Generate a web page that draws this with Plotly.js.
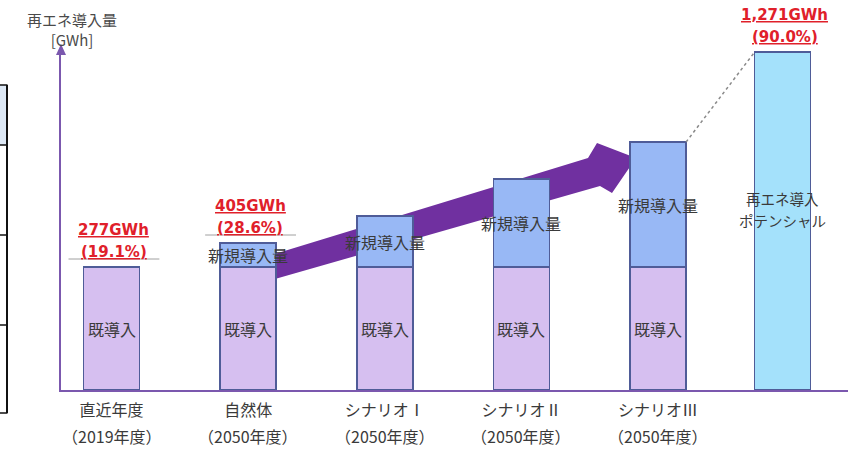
<!DOCTYPE html>
<html>
<head>
<meta charset="utf-8">
<script src="https://cdn.plot.ly/plotly-3.0.1.min.js"></script>
<style>html,body{margin:0;padding:0;background:#fff;}#chart{width:858px;height:450px;}</style>
</head>
<body>
<div id="chart"></div>
<script>
// Schematic chart: bar heights are drawing heights (not to GWh scale).
const categories = ['直近年度', '自然体', 'シナリオⅠ', 'シナリオⅡ', 'シナリオⅢ', 'ポテンシャル'];
const tickLabels = ['直近年度', '自然体', 'シナリオⅠ', 'シナリオⅡ', 'シナリオⅢ', ''];
const yearLabels = ['（2019年度）', '（2050年度）', '（2050年度）', '（2050年度）', '（2050年度）', ''];
const existingHeight = [123, 123, 123, 123, 123, null];
const newHeight = [null, 24, 51, 88, 125, null];
const potentialHeight = [null, null, null, null, null, 338];
const valueLabels = ['277GWh', '405GWh', '', '', '', '1,271GWh'];
const pctLabels = ['(19.1%)', '(28.6%)', '', '', '', '(90.0%)'];
const existingText = '既導入';
const newText = '新規導入量';
const potentialLines = ['再エネ導入', 'ポテンシャル'];
const yTitle = '再エネ導入量<br>[GWh]';

const PL = 61, PR = 848, PT = 50, PB = 390;
const px = v => (v - PL) / (PR - PL);
const py = v => (PB - v) / (PB - PT);

const purple = '#7b58ae';
const outline = '#4f5c98';
const jp = '"Noto Sans CJK JP", "Noto Sans", sans-serif';
const BW = 0.41;
const potOffset = -0.293;
const catPx = 136.6;

const traces = [
  {type: 'bar', x: categories, y: existingHeight, width: BW,
   marker: {color: '#d6bff0', line: {color: outline, width: 1.5}}, hoverinfo: 'skip'},
  {type: 'bar', x: categories, y: newHeight, width: BW,
   marker: {color: '#98b8f5', line: {color: outline, width: 1.5}}, hoverinfo: 'skip'},
  {type: 'bar', x: categories, y: potentialHeight, width: BW, offset: potOffset,
   marker: {color: '#a4e1fb', line: {color: outline, width: 1.5}}, hoverinfo: 'skip'}
];

const annotations = [];
const shapes = [];
const v = a => a || 0;
const total = categories.map((c, i) => v(existingHeight[i]) + v(newHeight[i]) + v(potentialHeight[i]));
const centerIdx = i => v(potentialHeight[i]) > 0 ? i + potOffset + BW / 2 : i;
const txtFont = {family: jp, size: 16, color: '#3a3a3a'};
const redFont = {family: '"DejaVu Sans", sans-serif', size: 15, color: '#e0202a', weight: 'bold'};

categories.forEach((c, i) => {
  if (v(existingHeight[i]) > 0) {
    annotations.push({x: c, y: existingHeight[i] / 2, text: existingText, showarrow: false,
      yanchor: 'middle', font: txtFont});
  }
  if (v(newHeight[i]) > 0) {
    annotations.push({x: c, y: existingHeight[i] + newHeight[i] / 2, text: newText, showarrow: false,
      yanchor: 'middle', font: txtFont});
  }
  if (valueLabels[i]) {
    const ci = centerIdx(i);
    const dx = (ci - i) * catPx;
    annotations.push({x: c, y: total[i], yshift: 37, xshift: dx + 2, text: '<u>' + valueLabels[i] + '</u>',
      showarrow: false, yanchor: 'middle', font: redFont});
    annotations.push({x: c, y: total[i], yshift: 15, xshift: dx + 2, text: '<u>' + pctLabels[i] + '</u>',
      showarrow: false, yanchor: 'middle', font: redFont});
    shapes.push({type: 'line', xref: 'x', yref: 'y', x0: ci - 0.315, x1: ci + 0.35,
      y0: total[i] + 8, y1: total[i] + 8, line: {color: '#a0a0a0', width: 1}});
  }
  if (yearLabels[i]) {
    annotations.push({x: c, xref: 'x', yref: 'paper', y: py(436), yanchor: 'middle', text: yearLabels[i],
      showarrow: false, font: txtFont});
  }
  if (v(potentialHeight[i]) > 0) {
    potentialLines.forEach((line, k) => {
      annotations.push({x: c, y: 192 - 22 * k, xshift: (centerIdx(i) - i) * catPx, text: line, showarrow: false,
        yanchor: 'middle', font: {family: jp, size: 14.5, color: '#3a3a3a'}});
    });
  }
});

// y-axis title
annotations.push({xref: 'paper', yref: 'paper', x: px(72), y: py(29), xanchor: 'center', yanchor: 'middle',
  text: yTitle, showarrow: false, font: {family: jp, size: 15, color: '#4a4a4a'}});

// dotted connector from scenario III top to potential top
shapes.push({type: 'line', xref: 'x', yref: 'y', x0: 4 + BW / 2, y0: total[4], x1: 5 + potOffset, y1: total[5],
  line: {color: '#8a8a8a', width: 1.5, dash: 'dot'}});

// big purple arrow (behind bars)
const arrowPts = [[268, 256], [588, 158], [597, 143], [636, 158], [612, 193], [600, 186], [268, 281]];
shapes.push({type: 'path', xref: 'paper', yref: 'paper', layer: 'below',
  path: 'M' + arrowPts.map(p => px(p[0]) + ',' + py(p[1])).join(' L') + ' Z',
  fillcolor: '#7030a0', line: {width: 0}});

// y-axis arrowhead
shapes.push({type: 'path', xref: 'paper', yref: 'paper',
  path: `M${px(56)},${py(55)} L${px(61)},${py(44)} L${px(66)},${py(55)} Z`,
  fillcolor: purple, line: {width: 0}});

// fragment of neighbouring table at left edge
shapes.push({type: 'rect', xref: 'paper', yref: 'paper', x0: px(-2), x1: px(7), y0: py(145), y1: py(85),
  fillcolor: '#dde8f5', line: {width: 0}});
[85, 145, 235, 325, 413].forEach(yv => shapes.push({type: 'line', xref: 'paper', yref: 'paper',
  x0: px(-2), x1: px(7.5), y0: py(yv), y1: py(yv), line: {color: '#111', width: 1.5}}));
shapes.push({type: 'line', xref: 'paper', yref: 'paper', x0: px(7), x1: px(7), y0: py(85), y1: py(413),
  line: {color: '#111', width: 2}});

const layout = {
  width: 858, height: 450,
  margin: {l: PL, r: 858 - PR, t: PT, b: 450 - PB},
  paper_bgcolor: '#fff', plot_bgcolor: '#fff',
  barmode: 'stack', showlegend: false,
  xaxis: {type: 'category', range: [-0.37, 5.39], showline: true, linecolor: purple, linewidth: 2,
    showgrid: false, zeroline: false, ticks: '', tickvals: categories, ticktext: tickLabels,
    ticklabelstandoff: 5, tickfont: txtFont, fixedrange: true},
  yaxis: {range: [0, 340], showline: true, linecolor: purple, linewidth: 2, showgrid: false,
    zeroline: false, showticklabels: false, ticks: '', fixedrange: true},
  annotations: annotations,
  shapes: shapes
};

Plotly.newPlot('chart', traces, layout, {displayModeBar: false, staticPlot: true});
</script>
</body>
</html>
